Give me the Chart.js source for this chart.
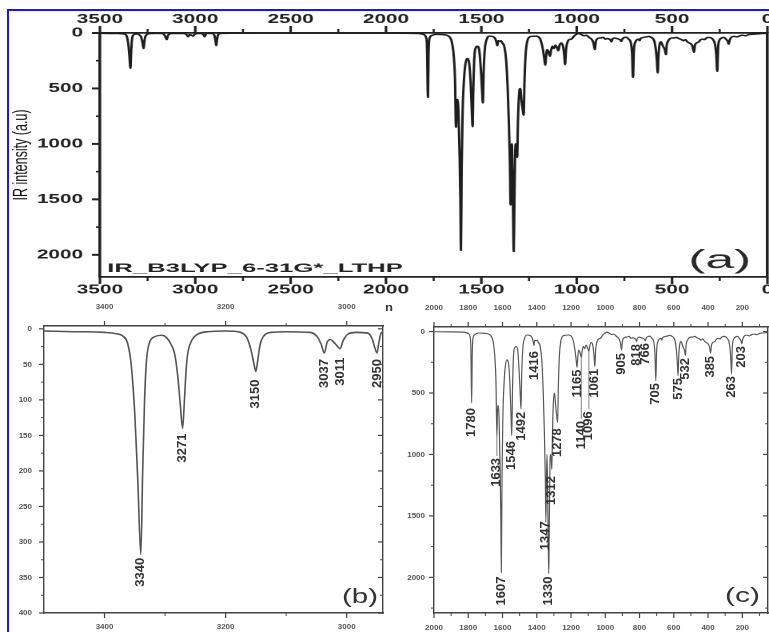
<!DOCTYPE html>
<html>
<head>
<meta charset="utf-8">
<script src="https://cdn.jsdelivr.net/npm/chart.js@4.4.0/dist/chart.umd.min.js"></script>
<style>
  html, body { margin: 0; padding: 0; background: #ffffff; width: 769px; height: 632px; overflow: hidden; }
  .frame { position: absolute; left: 7px; top: 9px; width: 900px; height: 800px;
           border-left: 2px solid #1414ff; border-top: 2px solid #1414ff; }
  canvas { position: absolute; }
  #ca { left: 0; top: 0; transform-origin: 0 0; transform: scaleX(1.59875); }
  #cb { left: 0; top: 298px; }
  #cc { left: 395px; top: 298px; }
</style>
</head>
<body>
<div class="frame"></div>
<canvas id="ca" width="481" height="300"></canvas>
<canvas id="cb" width="395" height="334"></canvas>
<canvas id="cc" width="374" height="334"></canvas>
<script>
// ---------------- DATA ----------------
const wavenumbers = [3500,3450,3400,3380,3370,3362,3356,3350,3345,3340,3337,3334,3331,3326,3317,3305,3298,3290,3284,3279,3275,3271,3268,3265,3262,3255,3245,3230,3200,3175,3165,3158,3153,3150,3147,3143,3137,3125,3100,3060,3048,3042,3037,3032,3027,3020,3015,3011,3006,2999,2985,2965,2958,2953,2950,2947,2943,2935,2910,2900,2894,2890,2886,2880,2870,2800,2500,2200,1900,1830,1800,1790,1785,1780,1777,1772,1760,1740,1700,1670,1655,1645,1638,1633,1628,1620,1614,1610,1607,1603,1598,1592,1585,1575,1565,1556,1550,1546,1542,1536,1528,1520,1510,1500,1495,1492,1488,1482,1470,1460,1445,1432,1425,1420,1416,1412,1405,1398,1390,1380,1370,1362,1356,1350,1347,1344,1340,1336,1333,1330,1327,1323,1319,1315,1312,1308,1302,1296,1290,1284,1278,1274,1268,1260,1250,1235,1215,1200,1190,1178,1170,1165,1160,1155,1148,1140,1135,1128,1120,1112,1104,1096,1090,1080,1072,1066,1061,1056,1048,1040,1028,1015,1000,990,975,960,950,935,920,912,905,900,890,875,860,850,840,830,822,818,813,800,790,780,772,766,761,750,740,728,716,710,705,700,692,684,675,670,665,650,635,620,610,600,592,585,580,575,571,565,558,550,544,538,532,528,520,510,500,490,478,465,450,440,430,420,410,400,393,385,380,372,360,350,340,330,320,305,295,285,275,268,263,258,250,240,228,215,208,203,198,190,175,160,145,130,115,100,85,70,50,30,0];
const intensities = [3,4,5,7,10,20,50,120,215,318,200,104,48,20,11,9,12,22,36,67,105,140,100,55,32,15,7,4,3,5,12,30,50,60,45,22,10,5,4,5,12,22,34,18,15,20,25,28,17,8,5,6,14,28,34,20,6,3,5,20,70,115,60,15,4,2,1,1,2,5,15,40,120,580,200,50,22,12,15,30,80,200,420,850,600,700,1100,1500,1960,1200,700,450,300,230,260,450,700,845,500,200,130,120,170,400,560,630,350,150,50,28,30,40,60,90,115,70,75,70,90,120,250,500,800,1200,1550,1250,1000,1350,1700,1970,1600,1100,1000,1050,1120,800,550,500,600,680,740,450,200,80,40,30,28,35,60,140,230,290,200,150,170,210,160,120,140,110,130,160,110,90,120,190,285,150,80,60,55,30,10,5,15,25,20,40,60,90,150,80,50,45,40,55,50,55,65,80,55,45,50,55,62,75,55,40,38,55,90,180,400,150,80,60,55,70,50,40,35,30,40,50,80,150,240,360,200,100,80,110,130,150,195,110,70,50,45,45,40,50,60,70,60,80,90,100,120,175,110,90,80,60,55,60,45,40,45,60,100,200,345,120,60,45,40,60,75,100,65,40,30,35,25,20,25,15,12,10,8,5,3];

// tick labels
const ticksAX = [3500,3000,2500,2000,1500,1000,500,0];
const minorAX = [3250,2750,2250,1750,1250,750,250];
const ticksAY = [0,500,1000,1500,2000];
const minorAY = [250,750,1250,1750];
const ticksBX = [3400,3200,3000];
const minorBX = [3300,3100];
const ticksBY = [0,50,100,150,200,250,300,350,400];
const minorBY = [25,75,125,175,225,275,325,375];
const ticksCX = [2000,1800,1600,1400,1200,1000,800,600,400,200];
const minorCX = [1900,1700,1500,1300,1100,900,700,500,300,100];
const ticksCY = [0,500,1000,1500,2000];
const minorCY = [250,750,1250,1750,2250];

// peak annotations
const peaksB = [3340,3271,3150,3037,3011,2950];
const peakLabelDepthB = [321,146,70,41,39,41];
const peaksC = [1780,1633,1607,1546,1492,1416,1347,1330,1312,1278,1165,1140,1096,1061,905,818,766,705,575,532,385,263,203];
const peakLabelDepthC = [615,1020,1985,883,645,150,1535,1985,1168,778,300,720,640,295,167,94,85,410,370,208,190,354,110];

const yTitleA = 'IR intensity (a.u)';
const methodLabel = 'IR_B3LYP_6-31G*_LTHP';

// ---------------- helpers ----------------
function points() { return wavenumbers.map((w, i) => ({ x: w, y: intensities[i] })); }
function setTicks(values) { return s => { s.ticks = values.map(v => ({ value: v })); }; }

function stretchText(ctx, text, x, y, font, color, targetWidth) {
  ctx.save();
  ctx.font = font;
  ctx.fillStyle = color;
  ctx.textAlign = 'left';
  ctx.textBaseline = 'alphabetic';
  const w = ctx.measureText(text).width;
  ctx.translate(x, y);
  ctx.scale(targetWidth / w, 1);
  ctx.fillText(text, 0, 0);
  ctx.restore();
}

function tickPlugin(specs, color) {
  return {
    id: 'tickMarks',
    afterDraw(chart) {
      const ctx = chart.ctx, ca = chart.chartArea;
      ctx.save();
      ctx.strokeStyle = color;
      specs.forEach(sp => {
        const sc = chart.scales[sp.axis];
        const draw = (vals, len, lw) => {
          ctx.lineWidth = lw;
          vals.forEach(v => {
            const p = sc.getPixelForValue(v);
            ctx.beginPath();
            if (sp.side === 'top' || sp.side === 'bottom') {
              const y0 = sp.side === 'top' ? ca.top : ca.bottom;
              let dir = sp.side === 'top' ? -1 : 1;
              if (sp.inward) dir = -dir;
              ctx.moveTo(p, y0); ctx.lineTo(p, y0 + dir * len);
            } else {
              const x0 = sp.side === 'left' ? ca.left : ca.right;
              let dir = sp.side === 'left' ? -1 : 1;
              if (sp.inward) dir = -dir;
              ctx.moveTo(x0, p); ctx.lineTo(x0 + dir * len, p);
            }
            ctx.stroke();
          });
        };
        draw(sp.major, sp.majorLen, sp.lw);
        draw(sp.minor, sp.minorLen, sp.lw * 0.8);
      });
      ctx.restore();
    }
  };
}

function peakLabelPlugin(peaks, depths) {
  return {
    id: 'peakLabels',
    afterDatasetsDraw(chart) {
      const ctx = chart.ctx, xs = chart.scales.x, ys = chart.scales.y;
      ctx.save();
      ctx.font = 'bold 13px "Liberation Sans", Arial, sans-serif';
      ctx.fillStyle = '#333';
      ctx.strokeStyle = '#666';
      ctx.lineWidth = 0.8;
      peaks.forEach((wn, i) => {
        const px = xs.getPixelForValue(wn);
        const py = ys.getPixelForValue(depths[i]);
        let k = 0, best = Infinity;
        wavenumbers.forEach((w, j) => { const d = Math.abs(w - wn); if (d < best) { best = d; k = j; } });
        const cy = ys.getPixelForValue(intensities[k]);
        if (py - cy > 12) {
          ctx.beginPath(); ctx.moveTo(px, py - 1); ctx.lineTo(px, cy); ctx.stroke();
        }
        ctx.save();
        ctx.translate(px, py + 1);
        ctx.rotate(-Math.PI / 2);
        ctx.textAlign = 'right';
        ctx.textBaseline = 'middle';
        ctx.fillText(String(wn), 0, 0);
        ctx.restore();
      });
      ctx.restore();
    }
  };
}

function buildScales(o) {
  const base = () => ({
    type: 'linear', display: true,
    grid: { display: true, drawOnChartArea: false, drawTicks: false },
    border: { display: true, color: o.axisColor, width: o.axisWidth }
  });
  const tickOpts = (pad) => ({
    autoSkip: false, maxRotation: 0, minRotation: 0, padding: pad,
    color: o.tickColor, font: o.tickFont, callback: v => String(v)
  });
  const fixH = h => s => { s.height = h; s.paddingLeft = 0; s.paddingRight = 0; s.paddingTop = 0; s.paddingBottom = 0; };
  const fixW = w => s => { s.width = w; s.paddingLeft = 0; s.paddingRight = 0; s.paddingTop = 0; s.paddingBottom = 0; };
  return {
    x: Object.assign(base(), {
      position: 'bottom', min: o.xMin, max: o.xMax, reverse: true,
      afterFit: fixH(o.bottom),
      afterBuildTicks: setTicks(o.xTicks), ticks: tickOpts(o.padBottom)
    }),
    x2: Object.assign(base(), {
      position: 'top', min: o.xMin, max: o.xMax, reverse: true,
      afterFit: fixH(o.top),
      afterBuildTicks: setTicks(o.xTicks), ticks: tickOpts(o.padTop)
    }),
    y: Object.assign(base(), {
      position: 'left', min: o.yMin, max: o.yMax, reverse: true,
      afterFit: fixW(o.left),
      afterBuildTicks: setTicks(o.yTicks), ticks: tickOpts(o.padLeft),
      title: o.yTitle || { display: false }
    }),
    y2: Object.assign(base(), {
      position: 'right', min: o.yMin, max: o.yMax, reverse: true,
      afterFit: fixW(o.right),
      ticks: { display: false }
    })
  };
}

function makeChart(id, o, extraPlugins) {
  return new Chart(document.getElementById(id), {
    type: 'line',
    data: {
      datasets: [{
        data: points(), xAxisID: 'x', yAxisID: 'y',
        borderColor: o.lineColor, borderWidth: o.lineWidth,
        borderJoinStyle: 'round', pointRadius: 0, fill: false,
        cubicInterpolationMode: 'monotone'
      }]
    },
    options: {
      responsive: false, animation: false, devicePixelRatio: o.dpr || 1,
      layout: { padding: 0, autoPadding: false },
      plugins: { legend: { display: false }, tooltip: { enabled: false } },
      events: [],
      scales: buildScales(o)
    },
    plugins: extraPlugins
  });
}

// ---------------- panel (a) (drawn narrow, stretched horizontally like the source) ----------------
makeChart('ca', {
  dpr: 2,
  xMin: 0, xMax: 3500, yMin: 0, yMax: 2200,
  xTicks: ticksAX, yTicks: ticksAY,
  left: 62.5, right: 1, top: 33, bottom: 23,
  padTop: 6, padBottom: 5, padLeft: 10.5,
  axisColor: '#222', axisWidth: 1.8, tickColor: '#222',
  tickFont: { family: '"Liberation Sans", Arial, sans-serif', size: 13, weight: 'bold' },
  lineColor: '#1e1e1e', lineWidth: 1.5,
  yTitle: { display: true, text: yTitleA, color: '#111',
            font: { family: '"Liberation Sans", Arial, sans-serif', size: 12.5 },
            padding: { top: 6, bottom: 0 } }
}, [
  tickPlugin([
    { axis: 'x', side: 'bottom', major: ticksAX, minor: minorAX, majorLen: 7, minorLen: 4, lw: 1.6 },
    { axis: 'x2', side: 'top', major: ticksAX, minor: minorAX, majorLen: 7, minorLen: 4, lw: 1.6 },
    { axis: 'y', side: 'left', major: ticksAY, minor: minorAY, majorLen: 5, minorLen: 2.5, lw: 2 }
  ], '#222'),
  { id: 'annotA',
    afterDatasetsDraw(chart) {
      const ctx = chart.ctx;
      stretchText(ctx, methodLabel, 67, 272, 'bold 12px "Liberation Sans", Arial', '#222', 185);
      stretchText(ctx, '(a)', 430.5, 268, '26px "Liberation Sans", Arial', '#2a2a2a', 39.4);
    } }
]);

// ---------------- panel (b) ----------------
const smallFont = { family: '"Liberation Sans", Arial, sans-serif', size: 8, weight: 'bold' };
makeChart('cb', {
  xMin: 2940, xMax: 3500, yMin: -4, yMax: 400,
  xTicks: ticksBX, yTicks: ticksBY,
  left: 44, right: 12, top: 28, bottom: 19,
  padTop: 14, padBottom: 9, padLeft: 12,
  axisColor: '#444', axisWidth: 1.4, tickColor: '#555', tickFont: smallFont,
  lineColor: '#555', lineWidth: 1.6
}, [
  tickPlugin([
    { axis: 'x', side: 'bottom', major: ticksBX, minor: minorBX, majorLen: 5, minorLen: 3, lw: 1.2 },
    { axis: 'x2', side: 'top', major: ticksBX, minor: minorBX, majorLen: 5, minorLen: 3, lw: 1.2 },
    { axis: 'y', side: 'left', major: ticksBY, minor: minorBY, majorLen: 5, minorLen: 3, lw: 1.2 },
    { axis: 'y', side: 'right', inward: true, major: ticksBY, minor: minorBY, majorLen: 5, minorLen: 3, lw: 1.2 }
  ], '#444'),
  peakLabelPlugin(peaksB, peakLabelDepthB),
  { id: 'annotB',
    afterDatasetsDraw(chart) {
      const ctx = chart.ctx;
      stretchText(ctx, '(b)', 342, 305, '20px "Liberation Sans", Arial', '#333', 36);
      stretchText(ctx, 'n', 385, 13, 'bold 11px "Liberation Sans", Arial', '#333', 8);
    } }
]);

// ---------------- panel (c) ----------------
makeChart('cc', {
  xMin: 50, xMax: 2000, yMin: -37, yMax: 2290,
  xTicks: ticksCX, yTicks: ticksCY,
  left: 39, right: 1, top: 29, bottom: 19,
  padTop: 14, padBottom: 10, padLeft: 9,
  axisColor: '#444', axisWidth: 1.4, tickColor: '#555', tickFont: smallFont,
  lineColor: '#5a5a5a', lineWidth: 1.2
}, [
  tickPlugin([
    { axis: 'x', side: 'bottom', major: ticksCX, minor: minorCX, majorLen: 5, minorLen: 3, lw: 1.2 },
    { axis: 'x2', side: 'top', major: ticksCX, minor: minorCX, majorLen: 5, minorLen: 3, lw: 1.2 },
    { axis: 'y', side: 'left', major: ticksCY, minor: minorCY, majorLen: 5, minorLen: 3, lw: 1.2 },
    { axis: 'y', side: 'right', inward: true, major: ticksCY, minor: minorCY, majorLen: 5, minorLen: 3, lw: 1.2 }
  ], '#444'),
  peakLabelPlugin(peaksC, peakLabelDepthC),
  { id: 'annotC',
    afterDatasetsDraw(chart) {
      stretchText(chart.ctx, '(c)', 330, 304, '21px "Liberation Sans", Arial', '#333', 35);
    } }
]);
</script>
</body>
</html>
